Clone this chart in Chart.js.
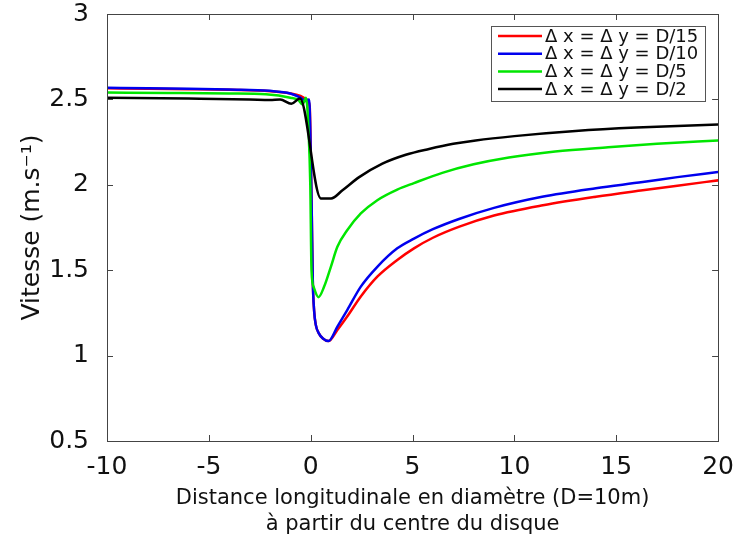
<!DOCTYPE html>
<html>
<head>
<meta charset="utf-8">
<script src="https://cdn.jsdelivr.net/npm/chart.js@4.4.0/dist/chart.umd.min.js"></script>
<style>
  html, body { margin: 0; padding: 0; background: #fff; }
  #wrap { width: 737px; height: 542px; }
</style>
</head>
<body>
<div id="wrap"><canvas id="chart" width="737" height="542"></canvas></div>
<script>
// series labels and colours
var labels = ['Δ x = Δ y = D/15', 'Δ x = Δ y = D/10', 'Δ x = Δ y = D/5', 'Δ x = Δ y = D/2']
var colors = ['#ff0000', '#0000ee', '#00e600', '#000000']

// D/15 (red)
var xD15 = [-10, -8, -6, -4, -2, -1, -0.5, -0.2, -0.05, 0.05, 0.1, 0.17, 0.25, 0.4, 0.6, 0.87, 1.31, 1.8, 2.46, 3.27, 4.25, 5.07, 6, 7.3, 9, 11.4, 14, 16.3, 18, 20]
var vD15 = [2.565, 2.563, 2.56, 2.556, 2.548, 2.535, 2.52, 2.5, 2.46, 1.85, 1.45, 1.26, 1.18, 1.13, 1.1, 1.085, 1.15, 1.23, 1.346, 1.462, 1.56, 1.628, 1.69, 1.755, 1.82, 1.88, 1.93, 1.968, 1.995, 2.026]

// D/10 (blue)
var xD10 = [-10, -8, -6, -4, -2, -1, -0.5, -0.25, -0.08, 0.05, 0.1, 0.17, 0.25, 0.4, 0.6, 0.87, 1.31, 1.8, 2.46, 3.27, 4.25, 5.07, 6, 7.28, 9, 11.36, 14, 16.3, 18, 20]
var vD10 = [2.568, 2.566, 2.563, 2.558, 2.55, 2.535, 2.51, 2.49, 2.5, 1.85, 1.45, 1.26, 1.18, 1.13, 1.1, 1.085, 1.17, 1.268, 1.404, 1.52, 1.628, 1.685, 1.74, 1.8, 1.865, 1.93, 1.98, 2.016, 2.045, 2.075]

// D/5 (green)
var xD5 = [-10, -7, -4, -2.2, -1, -0.6, -0.4, -0.23, -0.1, -0.02, 0.04, 0.15, 0.38, 0.66, 0.99, 1.31, 1.8, 2.46, 3.27, 4.25, 5.07, 6.46, 8, 9.73, 12, 14.6, 17, 20]
var vD5 = [2.54, 2.538, 2.535, 2.53, 2.51, 2.495, 2.47, 2.51, 2.3, 2.0, 1.5, 1.4, 1.342, 1.404, 1.52, 1.637, 1.735, 1.832, 1.91, 1.972, 2.01, 2.07, 2.12, 2.16, 2.195, 2.22, 2.24, 2.26]

// D/2 (black)
var xD2 = [-10, -6, -3, -2, -1.5, -0.95, -0.53, 0.5, 1, 1.56, 2.38, 3.52, 4.67, 5.81, 7, 8.1, 10, 13, 16, 20]
var vD2 = [2.51, 2.505, 2.5, 2.497, 2.5, 2.474, 2.506, 1.92, 1.92, 1.968, 2.045, 2.124, 2.176, 2.21, 2.24, 2.26, 2.285, 2.315, 2.335, 2.353]

// axis ticks
var xTicks = [-10, -5, 0, 5, 10, 15, 20]
var yTicks = [0.5, 1, 1.5, 2, 2.5, 3]

function toPoints(xs, vs) {
    var pts = []
    for (var i = 0; i < xs.length; i++) pts.push({ x: xs[i], y: vs[i] })
    return pts
}

var series = [toPoints(xD15, vD15), toPoints(xD10, vD10), toPoints(xD5, vD5), toPoints(xD2, vD2)]

var datasets = []
for (var i = 0; i < series.length; i++) {
    datasets.push({
        label: labels[i],
        data: series[i],
        borderColor: colors[i],
        backgroundColor: colors[i],
        borderWidth: 2.5,
        pointRadius: 0,
        cubicInterpolationMode: 'monotone',
        order: series.length - i
    })
}

// frame with inward ticks + legend box inside the plot
var framePlugin = {
    id: 'frame',
    afterDraw: function (chart) {
        var ctx = chart.ctx
        var a = chart.chartArea
        var xs = chart.scales.x, ys = chart.scales.y
        ctx.save()
        ctx.strokeStyle = '#444'
        ctx.lineWidth = 1
        ctx.strokeRect(Math.round(a.left) + 0.5, Math.round(a.top) + 0.5, Math.round(a.right - a.left), Math.round(a.bottom - a.top))
        ctx.beginPath()
        xTicks.forEach(function (t) {
            var px = Math.round(xs.getPixelForValue(t)) + 0.5
            ctx.moveTo(px, a.bottom); ctx.lineTo(px, a.bottom - 6)
            ctx.moveTo(px, a.top); ctx.lineTo(px, a.top + 6)
        })
        yTicks.forEach(function (t) {
            var py = Math.round(ys.getPixelForValue(t)) + 0.5
            ctx.moveTo(a.left, py); ctx.lineTo(a.left + 6, py)
            ctx.moveTo(a.right, py); ctx.lineTo(a.right - 6, py)
        })
        ctx.stroke()

        // legend
        var bx = 491.5, by = 26.5, bw = 214, bh = 75
        ctx.fillStyle = '#fff'
        ctx.fillRect(bx, by, bw, bh)
        ctx.strokeStyle = '#555'
        ctx.strokeRect(bx, by, bw, bh)
        ctx.font = '18px "DejaVu Sans"'
        ctx.textBaseline = 'middle'
        ctx.textAlign = 'left'
        for (var i = 0; i < labels.length; i++) {
            var ry = 36 + i * 17.7
            ctx.strokeStyle = colors[i]
            ctx.lineWidth = 2.5
            ctx.beginPath()
            ctx.moveTo(498, ry); ctx.lineTo(542, ry)
            ctx.stroke()
            ctx.fillStyle = '#111'
            ctx.fillText(labels[i], 545, ry + 1)
        }
        ctx.restore()
    }
}

var ctx = document.getElementById('chart').getContext('2d')
var myChart = new Chart(ctx, {
    type: 'line',
    data: { datasets: datasets },
    options: {
        responsive: false,
        animation: false,
        layout: { padding: { top: 14, right: 8, left: 0, bottom: 0 } },
        plugins: { legend: { display: false }, tooltip: { enabled: false } },
        scales: {
            x: {
                type: 'linear',
                min: -10, max: 20,
                grid: { display: false },
                border: { display: false },
                afterBuildTicks: function (s) { s.ticks = xTicks.map(function (v) { return { value: v } }) },
                afterFit: function (s) { s.height = 101 },
                ticks: {
                    color: '#111', padding: 3, maxRotation: 0, autoSkip: false,
                    font: { family: 'DejaVu Sans', size: 25 }
                },
                title: {
                    display: true,
                    text: ['Distance longitudinale en diamètre (D=10m)', 'à partir du centre du disque'],
                    color: '#111',
                    font: { family: 'DejaVu Sans', size: 21, lineHeight: 1.25 },
                    padding: { top: 0, bottom: 4 }
                }
            },
            y: {
                type: 'linear',
                min: 0.5, max: 3,
                grid: { display: false },
                border: { display: false },
                afterBuildTicks: function (s) { s.ticks = yTicks.map(function (v) { return { value: v } }) },
                afterFit: function (s) {
                    s.width = 107
                    s.paddingTop = 0
                    s.paddingBottom = 0
                },
                ticks: {
                    color: '#111', padding: 10,
                    font: { family: 'DejaVu Sans', size: 25 },
                    callback: function (v) { return String(v) }
                },
                title: {
                    display: true,
                    text: 'Vitesse (m.s⁻¹)',
                    color: '#111',
                    font: { family: 'DejaVu Sans', size: 25, lineHeight: 1.2 },
                    padding: { top: 17, bottom: 0 }
                }
            }
        }
    },
    plugins: [framePlugin]
})
</script>
</body>
</html>
